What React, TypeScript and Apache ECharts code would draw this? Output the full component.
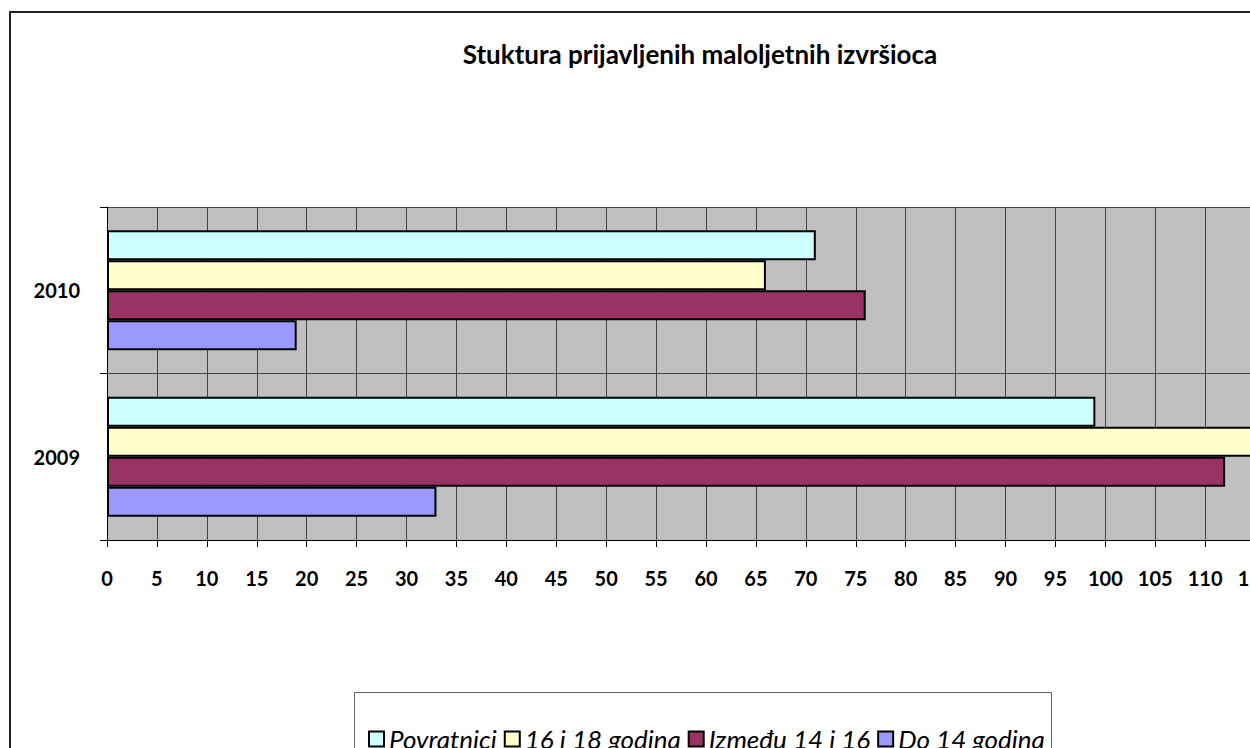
import React, { useEffect, useRef } from "react";
import * as echarts from "echarts";

const categories = ["2009", "2010"];
const xTicks = { min: 0, max: 120, interval: 5 };
const seriesNames = ["Povratnici", "16 i 18 godina", "Između 14 i 16", "Do 14 godina"];
const povratnici = [99, 71];
const godina16do18 = [117, 66];
const izmedju14i16 = [112, 76];
const do14 = [33, 19];
const colors = ["#CCFFFF", "#FFFFCC", "#993366", "#9999FF"];
const title = "Stuktura prijavljenih maloljetnih izvršioca";

export default function App() {
  const ref = useRef<HTMLDivElement>(null);
  useEffect(() => {
    document.body.style.margin = "0";
    const chart = echarts.init(ref.current!, null, { renderer: "svg" });
    const font = "Lato, 'Open Sans', sans-serif";
    const values = [povratnici, godina16do18, izmedju14i16, do14];
    const series = values.map((v, i) => ({
      name: seriesNames[i],
      type: "bar",
      data: v,
      barGap: "0%",
      barCategoryGap: "28%",
      itemStyle: { color: colors[i], borderColor: "#000", borderWidth: 2 },
    }));
    chart.setOption({
      animation: false,
      textStyle: { fontFamily: font },
      title: {
        text: title,
        left: 695,
        top: 36,
        textAlign: "center",
        textStyle: { fontFamily: font, fontWeight: "bold", fontSize: 26, color: "#000" },
      },
      graphic: [
        {
          type: "rect",
          shape: { x: 10, y: 12, width: 1400, height: 900 },
          style: { fill: "none", stroke: "#222", lineWidth: 2 },
          silent: true,
        },
        {
          type: "rect",
          shape: { x: 354.5, y: 692.5, width: 697, height: 120 },
          style: { fill: "#fff", stroke: "#666", lineWidth: 1 },
          silent: true,
          z: -1,
        },
      ],
      legend: {
        data: seriesNames,
        icon: "rect",
        left: 368,
        top: 726,
        itemWidth: 15,
        itemHeight: 15,
        itemGap: 7,
        padding: 0,
        textStyle: { fontFamily: font, fontStyle: "italic", fontSize: 26, color: "#000" },
      },
      grid: {
        left: 107,
        top: 207,
        width: 1198,
        height: 333,
        show: true,
        backgroundColor: "#C0C0C0",
        borderWidth: 0,
      },
      xAxis: {
        type: "value",
        min: xTicks.min,
        max: xTicks.max,
        interval: xTicks.interval,
        axisLine: { show: true, lineStyle: { color: "#000", width: 1 } },
        axisTick: { show: true, length: 7, lineStyle: { color: "#000" } },
        axisLabel: { fontFamily: font, fontWeight: "bold", fontSize: 20, color: "#000", margin: 28 },
        splitLine: { show: true, lineStyle: { color: "#444", width: 1 } },
      },
      yAxis: {
        type: "category",
        data: categories,
        axisLine: { show: true, lineStyle: { color: "#000", width: 1 } },
        axisTick: { show: true, length: 7, lineStyle: { color: "#000" } },
        axisLabel: { fontFamily: font, fontWeight: "bold", fontSize: 20, color: "#000", margin: 27 },
        splitLine: { show: true, lineStyle: { color: "#444", width: 1 } },
      },
      series,
    });
    return () => chart.dispose();
  }, []);
  return (
    <div style={{ position: "relative", width: 1250, height: 748, overflow: "hidden", background: "#fff" }}>
      <div ref={ref} style={{ position: "absolute", left: 0, top: 0, width: 1400, height: 900 }} />
    </div>
  );
}
